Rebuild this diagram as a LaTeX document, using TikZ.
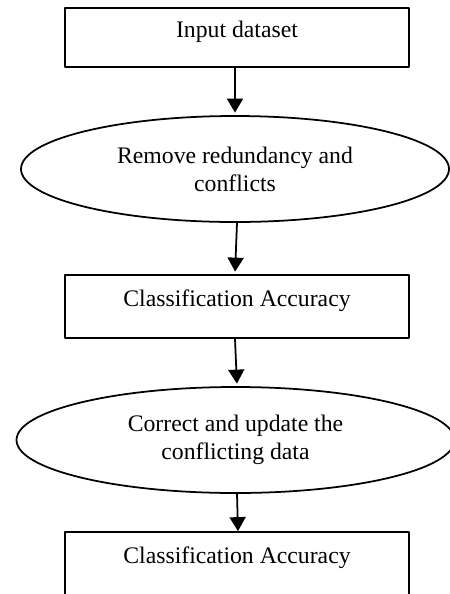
\documentclass[tikz,border=0pt]{standalone}
\usepackage{fontspec}
\setmainfont{Liberation Serif}
\usetikzlibrary{arrows.meta,shapes.geometric}

\begin{document}
\begin{tikzpicture}[>={Triangle[width=0.32cm,length=0.28cm]}, line cap=round, line join=round,
  procbox/.style={draw, line width=1pt, minimum width=6.88cm, inner sep=0pt, text height=1.5ex, text depth=1.5ex},
  procoval/.style={draw, ellipse, line width=1pt, inner sep=0pt, align=center, minimum height=2.12cm},
  flowarrow/.style={->, line width=1pt, shorten >=0.05cm},
  font=\fontsize{13.5}{16}\selectfont]

\useasboundingbox (0,0) rectangle (9,-11.88);

\node[procbox, minimum height=1.18cm] (inp) at (4.74,-0.75) {Input dataset};
\node[procoval, minimum width=8.56cm] (rem) at (4.70,-3.38) {Remove redundancy and\\conflicts};
\node[procbox, minimum height=1.26cm] (acc1) at (4.74,-6.13) {Classification Accuracy};
\node[procoval, minimum width=8.76cm] (cor) at (4.71,-8.80) {Correct and update the\\conflicting data};
\node[procbox, minimum height=1.26cm] (acc2) at (4.74,-11.27) {Classification Accuracy};
\draw[flowarrow] ([xshift=-0.04cm]inp.south) -- (rem.north);
\draw[flowarrow] ([xshift=0.04cm]rem.south) -- ([xshift=-0.04cm]acc1.north);
\draw[flowarrow] ([xshift=-0.04cm]acc1.south) -- ([xshift=0.03cm]cor.north);
\draw[flowarrow, shorten >=0pt] ([xshift=0.03cm]cor.south) -- ([xshift=0.02cm]acc2.north);

\end{tikzpicture}
\end{document}
